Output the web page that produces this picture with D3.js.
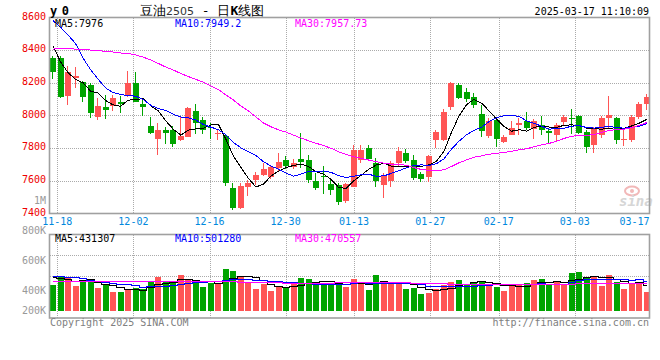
<!DOCTYPE html>
<html><head><meta charset="utf-8">
<script src="https://cdn.jsdelivr.net/npm/d3@7/dist/d3.min.js"></script>
<style>
body{margin:0;background:#fff}
svg{display:block}
text{font-family:"DejaVu Sans Mono",monospace}
</style>
</head><body>
<svg id="chart" width="660" height="360"></svg>
<script>
// ---------------- data ----------------
const dates = ["11-15","11-18","11-19","11-20","11-21","11-22","11-25","11-26","11-27","11-28","11-29",
"12-02","12-03","12-04","12-05","12-06","12-09","12-10","12-11","12-12","12-13",
"12-16","12-17","12-18","12-19","12-20","12-23","12-24","12-25","12-26","12-27","12-30","12-31",
"01-02","01-03","01-06","01-07","01-08","01-09","01-10","01-13","01-14","01-15","01-16","01-17",
"01-20","01-21","01-22","01-23","01-24","01-27",
"02-05","02-06","02-07","02-10","02-11","02-12","02-13","02-14","02-17","02-18","02-19","02-20","02-21",
"02-24","02-25","02-26","02-27","02-28",
"03-03","03-04","03-05","03-06","03-07","03-10","03-11","03-12","03-13","03-14","03-17"];

const open = [8353,8349,8120,8227,8202,8188,7988,8051,8059,8084, 8119,8198,8070,7935,7855,7910,7910,7851,7869,8027,
 7971,7932,7888,7873,7557,7431,7559,7604,7633,7624, 7679,7726,7685,7733,7726,7598,7628,7578,7573,7475,
 7563,7726,7798,7710,7573,7598,7706,7767,7726,7641, 7624,7849,7849,8049,8186,8145,8114,8008,7873,7971,
 7839,7880,7941,7967,7916,7941,7904,7880,7961,7982, 7996,7900,7818,7880,7986,7982,7849,7849,7992,8070];
const high = [8365,8363,8302,8298,8212,8196,8104,8125,8125,8119, 8272,8266,8094,7988,7955,7930,7935,7988,8053,8068,
 7988,7955,7910,7886,7584,7584,7604,7655,7710,7690, 7771,7751,7731,7890,7757,7645,7690,7604,7584,7584,
 7818,7818,7818,7737,7645,7722,7808,7792,7757,7655, 7757,7910,8037,8206,8196,8166,8137,8063,7982,7982,
 7880,7967,7986,8022,7975,7996,7921,7951,8000,8037, 8002,7910,7930,7996,8119,7992,7910,8002,8084,8131];
const low = [8221,8108,8063,8166,8084,7986,7970,7978,8029,8016, 8115,8080,7996,7884,7757,7826,7808,7845,7865,7886,
 7886,7855,7849,7569,7420,7424,7506,7573,7628,7610, 7653,7669,7669,7677,7587,7543,7518,7512,7451,7463,
 7560,7706,7725,7563,7492,7559,7685,7706,7604,7590, 7593,7798,7845,8033,8100,8084,8043,7869,7859,7808,
 7829,7878,7880,7910,7855,7880,7825,7839,7935,7886, 7886,7767,7771,7859,7924,7825,7812,7835,7976,8033];
const close = [8267,8114,8266,8241,8111,8012,8057,8035,8106,8070, 8198,8082,8053,7894,7910,7894,7826,7872,8045,7951,
 7910,7928,7892,7587,7434,7569,7584,7636,7673,7685, 7716,7690,7706,7716,7606,7553,7620,7543,7471,7579,
 7787,7787,7731,7598,7628,7706,7783,7722,7618,7610, 7751,7900,8022,8200,8108,8098,8063,7906,7965,7853,
 7869,7924,7951,7924,7967,7910,7890,7941,7992,7976, 7894,7808,7920,7982,8002,7849,7855,7992,8070,8114];
const volume = [442000,595000,583000,425000,515000,527000,386000,442000,323000,323000,
 369000,386000,369000,510000,583000,493000,471000,612000,527000,488000,
 403000,481000,481000,714000,680000,573000,481000,369000,459000,340000,
 403000,386000,471000,566000,544000,459000,459000,442000,442000,413000,
 544000,459000,357000,612000,510000,471000,471000,374000,391000,289000,
 311000,369000,437000,493000,527000,459000,493000,510000,442000,413000,
 340000,425000,459000,481000,527000,544000,442000,510000,442000,646000,
 663000,566000,583000,425000,612000,493000,374000,459000,498000,323000];

const ma5Head  = [8426,8328,8262,8220];
const ma10Head = [8580,8540,8492,8440,8350,8280,8222,8168,8140];
const ma30Head = [8406,8409,8409,8406,8403,8400,8397,8391,8388,8382,8379,8370,8357,8339,8318,
 8296,8278,8256,8238,8220,8204,8180,8158,8125,8094,8057,8027,7990,7953];
const vma5Head  = [570000,560000,535000,500000];
const vma10Head = [585000,583000,576000,562000,545000,525000,505000,485000,465000];
const vma30Head = [505000,506000,506000,505000,505000,505000,504000,504000,505000,505000,
 505000,504000,504000,505000,505000,505000,504000,504000,503000,502000,
 501000,500000,498000,496000,494000,491000,488000,485000,482000];

const priceTicks = [8600,8400,8200,8000,7800,7600,7400];
const volTicks = [800000,600000,400000,200000];
const volTickText = ["800K","600K","400K","200K"];
const dateTicks = ["11-18","12-02","12-16","12-30","01-13","01-27","02-17","03-03","03-17"];
const priceLegend = ["MA5:7976","MA10:7949.2","MA30:7957.73"];
const volLegend = ["MA5:431307","MA10:501280","MA30:470557"];
const maColors = ["#000000","#0000ff","#ff00ff"];

// ---------------- layout ----------------
const svg = d3.select("#chart");
const P = {left:49.5, right:649.5, top:17.5, bottom:213.5};
const V = {top:234.5, bottom:318, base:311};
const RED = "#ff5555", GREEN = "#00a400", GRID = "#aaaaaa", BORDER = "#a0a0a0";

const x = d3.scaleBand().domain(dates).range([50, 650]).paddingInner(0.2).paddingOuter(0);
const bw = x.bandwidth();
const cx = d => x(d) + bw / 2;
const tickX = d3.scaleLinear().domain([0, dates.length]).range([49.7, 49.7 + 7.61 * dates.length]);
const y = d3.scaleLinear().domain([7400, 8600]).range([213.4, 17.4]);
const yv = d3.scaleLinear().domain([0, 1000000]).range([V.base, V.base - 1000000 / 17000]);
const volLabelY = d3.scaleLinear().domain([800000, 400000]).range([233.7, 294.3]);

function movAvg(arr, n, head) {
  return arr.map((_, i) => i < n - 1 ? head[i] : d3.mean(arr.slice(i - n + 1, i + 1)));
}
const ma = [movAvg(close,5,ma5Head), movAvg(close,10,ma10Head), movAvg(close,30,ma30Head)];
const vma = [movAvg(volume,5,vma5Head), movAvg(volume,10,vma10Head), movAvg(volume,30,vma30Head)];
const up = i => close[i] >= open[i];
const idx = d3.range(close.length);

// ---------------- grid ----------------
const grid = svg.append("g").attr("stroke", GRID).attr("stroke-dasharray", "1,1").attr("shape-rendering","crispEdges");
priceTicks.filter(v => v < 8600 && v > 7400).forEach(v => {
  const yy = Math.round(y(v)) + 0.5;
  grid.append("line").attr("x1", P.left).attr("x2", P.right).attr("y1", yy).attr("y2", yy);
});
[0.25, 0.5].forEach(f => {
  const yy = Math.round(V.top + (V.bottom - V.top) * f) + 0.5;
  grid.append("line").attr("x1", P.left).attr("x2", P.right).attr("y1", yy).attr("y2", yy);
});
dateTicks.forEach(t => {
  const gx = tickX(dates.indexOf(t));
  if (gx < P.right - 2) {
    const xx = Math.round(gx) + 0.5;
    grid.append("line").attr("x1", xx).attr("x2", xx).attr("y1", P.top).attr("y2", P.bottom);
    grid.append("line").attr("x1", xx).attr("x2", xx).attr("y1", V.top).attr("y2", V.bottom);
  }
});

// ---------------- watermark ----------------
const wm = svg.append("g");
wm.append("ellipse").attr("cx", 632).attr("cy", 191).attr("rx", 7).attr("ry", 4.5)
  .attr("fill", "none").attr("stroke", "#f2b8b8").attr("stroke-width", 2);
wm.append("circle").attr("cx", 632).attr("cy", 191).attr("r", 2).attr("fill", "#f2b8b8");
wm.append("text").attr("x", 619).attr("y", 206).text("sina")
  .attr("font-family", "DejaVu Sans").attr("font-style", "italic").attr("font-weight", "bold")
  .attr("font-size", 14).attr("fill", "#d6d6d6");

// ---------------- candles ----------------
const cg = svg.append("g").attr("shape-rendering", "crispEdges");
idx.forEach(i => {
  const d = dates[i], col = up(i) ? RED : GREEN;
  const bx = Math.round(x(d));
  cg.append("rect").attr("x", bx + 2).attr("width", 1)
    .attr("y", y(high[i])).attr("height", Math.max(1, y(low[i]) - y(high[i]))).attr("fill", col);
  const top = y(Math.max(open[i], close[i])), bot = y(Math.min(open[i], close[i]));
  cg.append("rect").attr("x", bx).attr("width", Math.round(bw))
    .attr("y", top).attr("height", Math.max(1, bot - top)).attr("fill", col);
});

// ---------------- volume bars ----------------
const vg = svg.append("g").attr("shape-rendering", "crispEdges");
idx.forEach(i => {
  const d = dates[i];
  vg.append("rect").attr("x", Math.round(x(d))).attr("width", Math.round(bw))
    .attr("y", yv(volume[i])).attr("height", V.base - yv(volume[i]))
    .attr("fill", up(i) ? RED : GREEN);
});

// ---------------- MA lines ----------------
const lineP = d3.line().x((v, i) => cx(dates[i])).y(v => y(v));
ma.forEach((m, k) => svg.append("path").attr("d", lineP(m)).attr("fill", "none")
  .attr("stroke", maColors[k]).attr("stroke-width", 1).attr("shape-rendering", "crispEdges"));
const lineV = d3.line().x((v, i) => cx(dates[i])).y(v => yv(v)).curve(d3.curveStep);
vma.forEach((m, k) => svg.append("path").attr("d", lineV(m)).attr("fill", "none")
  .attr("stroke", maColors[k]).attr("stroke-width", 1).attr("shape-rendering", "crispEdges"));

// ---------------- borders ----------------
const bg = svg.append("g").attr("fill", "none").attr("stroke", BORDER).attr("stroke-width", 1.6);
bg.append("rect").attr("x", P.left).attr("y", P.top).attr("width", P.right - P.left).attr("height", P.bottom - P.top);
bg.append("rect").attr("x", P.left).attr("y", V.top).attr("width", P.right - P.left).attr("height", V.bottom - V.top);

// ---------------- text ----------------
const T = svg.append("g").attr("font-size", 10);
priceTicks.forEach(v => T.append("text").attr("x", 46).attr("y", y(v) + 2.2)
  .attr("text-anchor", "end").attr("fill", "#ee0000").text(v));
T.append("text").attr("x", 46).attr("y", 204).attr("text-anchor", "end").attr("fill", "#999").text("1M");
volTicks.forEach((v, k) => T.append("text").attr("x", 46).attr("y", Math.min(volLabelY(v), 313.7))
  .attr("text-anchor", "end").attr("fill", "#999").text(volTickText[k]));
dateTicks.forEach(t => {
  const gx = tickX(dates.indexOf(t));
  const clamp = gx + 15 > P.right;
  T.append("text").attr("x", clamp ? P.right : gx).attr("y", 225)
    .attr("text-anchor", clamp ? "end" : "middle").attr("fill", "#0088dd").text(t);
});
[55, 175, 295].forEach((lx, k) => {
  T.append("text").attr("x", lx).attr("y", 26.7).attr("fill", maColors[k]).text(priceLegend[k]);
  T.append("text").attr("x", lx).attr("y", 242).attr("fill", maColors[k]).text(volLegend[k]);
});
T.append("text").attr("x", 50).attr("y", 325.5).attr("fill", "#808080").text("Copyright 2025 SINA.COM");
T.append("text").attr("x", 649).attr("y", 325.5).attr("text-anchor", "end").attr("fill", "#808080").text("http://finance.sina.com.cn");
T.append("text").attr("x", 649).attr("y", 15).attr("text-anchor", "end").attr("fill", "#000").text("2025-03-17 11:10:09");
svg.append("text").attr("x", 50).attr("y", 15).attr("font-size", 12).attr("font-weight", "bold")
  .attr("letter-spacing", 4.5).attr("fill", "#000").text("y0");
const title = svg.append("text").attr("x", 140).attr("y", 15).attr("font-size", 13)
  .attr("font-family", "'Noto Sans CJK SC',sans-serif").attr("fill", "#000");
title.append("tspan").text("豆油");
title.append("tspan").attr("font-family", "'DejaVu Sans',sans-serif").attr("font-size", 11).attr("fill", "#333").text("2505");
title.append("tspan").text(" - 日");
title.append("tspan").attr("font-weight", "bold").text("K");
title.append("tspan").text("线图");
</script>
</body></html>
